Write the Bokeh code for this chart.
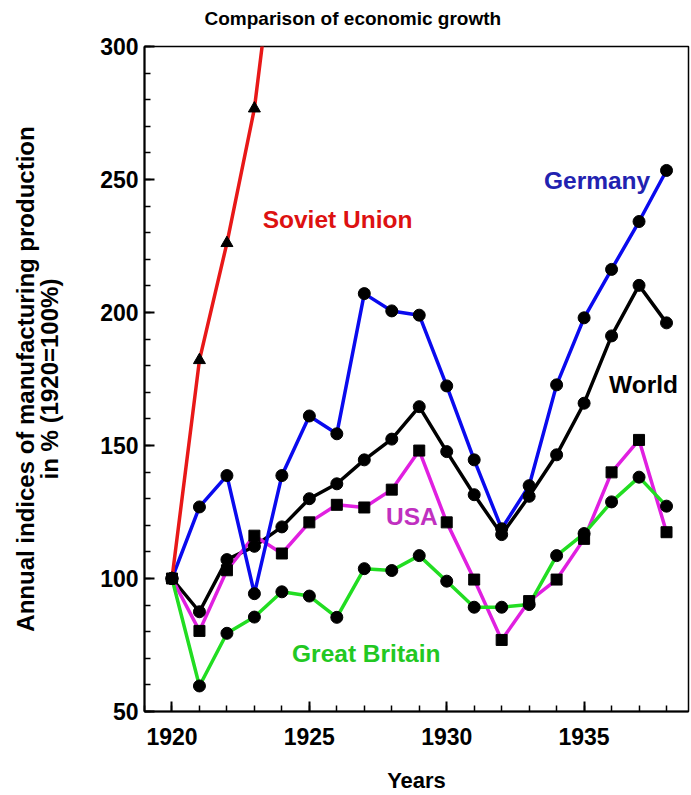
from bokeh.plotting import figure
from bokeh.models import Range1d, SingleIntervalTicker, Label, Title
from bokeh.embed import file_html
from bokeh.resources import INLINE

# ---- data ----
years = [1920, 1921, 1922, 1923, 1924, 1925, 1926, 1927, 1928, 1929,
         1930, 1931, 1932, 1933, 1934, 1935, 1936, 1937, 1938]
germany = [100, 126.9, 138.7, 94.3, 138.7, 161.1, 154.4, 207.1, 200.6, 199.0,
           172.4, 144.6, 118.7, 134.9, 172.8, 198.0, 216.2, 234.2, 253.4]
world = [100, 87.5, 107.1, 112.1, 119.4, 130.0, 135.6, 144.6, 152.4, 164.6,
         147.7, 131.5, 116.5, 130.9, 146.5, 165.9, 191.2, 210.2, 196.1]
usa = [100, 80.3, 103.1, 116.1, 109.4, 121.1, 127.7, 126.7, 133.4, 148.1,
       121.1, 99.6, 76.9, 91.5, 99.6, 114.9, 139.9, 152.1, 117.4]
great_britain = [100, 59.6, 79.4, 85.5, 95.0, 93.4, 85.4, 103.7, 103.0, 108.6,
                 99.0, 89.2, 89.2, 90.2, 108.6, 116.9, 128.8, 138.1, 127.2]
soviet_years = [1920, 1921, 1922, 1923, 1924]
soviet_union = [100, 182.1, 226.1, 276.7, 360]
title_text = "Comparison of economic growth"

FONT = "Liberation Sans"

p = figure(width=691, height=795, output_backend="svg", toolbar_location=None,
           title=None,
           x_range=Range1d(1919, 1938.8), y_range=Range1d(50, 300),
           min_border_left=144, min_border_right=3, min_border_top=46,
           min_border_bottom=83, background_fill_color="white",
           border_fill_color="white")

# spacer between frame and title, then the title itself
p.add_layout(Title(text=" ", text_font_size="1px", standoff=14), "above")
p.add_layout(Title(text=title_text, align="left", offset=60, standoff=2,
                   vertical_align="bottom", text_font=FONT,
                   text_font_size="19px", text_font_style="bold",
                   text_color="black"), "above")

p.outline_line_color = "black"
p.outline_line_width = 1.5
p.xgrid.visible = False
p.ygrid.visible = False

p.xaxis.ticker = SingleIntervalTicker(interval=5, num_minor_ticks=5)
p.yaxis.ticker = SingleIntervalTicker(interval=50, num_minor_ticks=5)
p.xaxis.axis_label = "Years"
p.yaxis.axis_label = "Annual indices of manufacturing production\nin % (1920=100%)"

for ax in (p.xaxis, p.yaxis):
    ax.axis_line_color = "black"
    ax.axis_line_width = 2
    ax.major_tick_in = 10
    ax.major_tick_out = 0
    ax.minor_tick_in = 6
    ax.minor_tick_out = 0
    ax.major_tick_line_width = 2
    ax.minor_tick_line_width = 1.5
    ax.major_tick_line_color = "black"
    ax.minor_tick_line_color = "black"
    ax.major_label_text_font = FONT
    ax.major_label_text_font_size = "23px"
    ax.major_label_text_font_style = "bold"
    ax.major_label_text_color = "black"
    ax.axis_label_text_font = FONT
    ax.axis_label_text_font_style = "bold"
    ax.axis_label_text_color = "black"

p.xaxis.axis_label_text_font_size = "22px"
p.yaxis.axis_label_text_font_size = "24px"
p.xaxis.major_label_standoff = 16
p.xaxis.axis_label_standoff = 20
p.yaxis.major_label_standoff = 6
p.yaxis.axis_label_standoff = 34
p.yaxis.axis_label_text_line_height = 0.9

series = [
    (years, world, "black", "circle"),
    (years, usa, "#e020e0", "square"),
    (years, germany, "#0a0aee", "circle"),
    (years, great_britain, "#22dd22", "circle"),
    (soviet_years, soviet_union, "#e81818", "triangle"),
]
for xs, ys, col, _ in series:
    p.line(xs, ys, line_color=col, line_width=3.5)
for xs, ys, col, mk in series:
    size = {"circle": 12, "square": 11, "triangle": 12}[mk]
    p.scatter(xs, ys, marker=mk, size=size, fill_color="black", line_color="black")

labels = [
    ("Soviet Union", 1923.30, 235.0, "#dd1111"),
    ("Germany", 1933.54, 249.6, "#2222b0"),
    ("World", 1935.91, 172.75, "black"),
    ("USA", 1927.79, 123.25, "#c030c0"),
    ("Great Britain", 1924.37, 71.9, "#22c822"),
]
for txt, lx, ly, col in labels:
    p.add_layout(Label(x=lx, y=ly, text=txt, text_color=col, text_font=FONT,
                       text_font_size="24.5px", text_font_style="bold",
                       text_baseline="middle", text_align="left"))

open("out.html", "w").write(file_html(p, INLINE))
